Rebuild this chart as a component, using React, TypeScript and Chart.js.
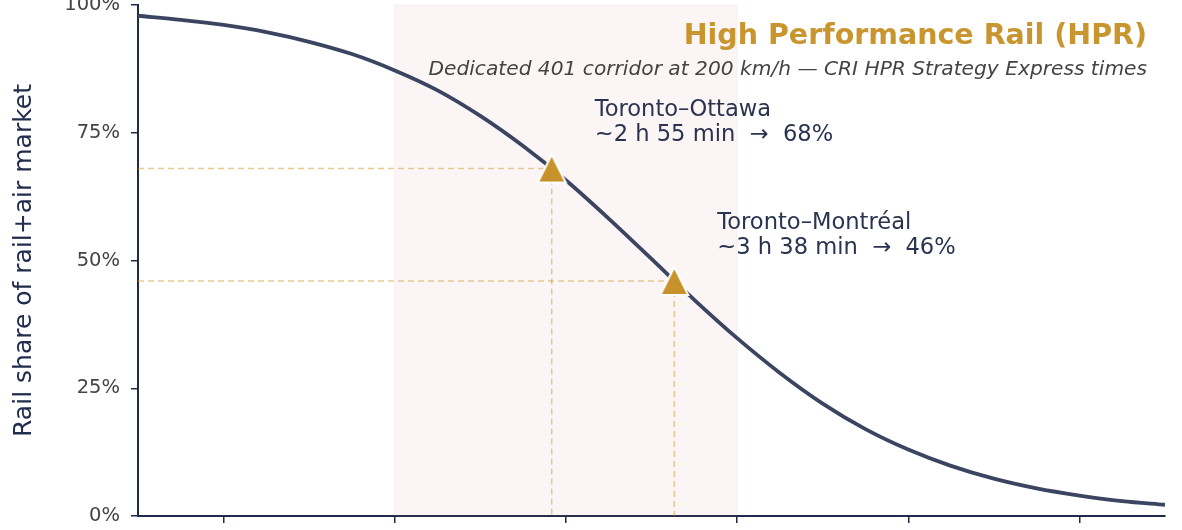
import { useEffect, useRef } from "react";
import { Chart, registerables } from "chart.js";

Chart.register(...registerables);

// travel time (h) vs rail share of the rail+air market (%)
const hours = [
  0.5, 0.75, 1, 1.25, 1.5, 1.75, 2, 2.25, 2.5, 2.75, 3, 3.25, 3.5, 3.75, 4, 4.25, 4.5, 4.75, 5,
  5.25, 5.5, 5.75, 6, 6.25, 6.5,
];
const railShare = [
  97.9, 97.1, 96.1, 94.7, 92.8, 90.4, 87.2, 83.3, 78.3, 72.4, 65.7, 58.2, 50.3, 42.3, 34.8, 28.0,
  22.0, 17.0, 13.0, 9.8, 7.3, 5.4, 4.0, 2.9, 2.2,
];

const routeNames = ["Toronto–Ottawa", "Toronto–Montréal"];
const routeTimes = ["~2 h 55 min", "~3 h 38 min"];
const routeHours = [2.917, 3.633];
const routeShares = [68, 46];

const xTicks = [1, 2, 3, 4, 5, 6];
const yTicks = [0, 25, 50, 75, 100];
const hprBand = [2, 4];

const titleText = "High Performance Rail (HPR)";
const subtitleText = "Dedicated 401 corridor at 200 km/h — CRI HPR Strategy Express times";

const navy = "#3b4562";
const axisColor = "#1f2a4a";
const gold = "#c8922a";
const dashGold = "rgba(214, 160, 60, 0.55)";
const font = "'DejaVu Sans', sans-serif";

function makeTriangle() {
  const c = document.createElement("canvas");
  c.width = 32;
  c.height = 32;
  const ctx = c.getContext("2d")!;
  ctx.beginPath();
  ctx.moveTo(16, 2);
  ctx.lineTo(30, 30);
  ctx.lineTo(2, 30);
  ctx.closePath();
  ctx.fillStyle = gold;
  ctx.fill();
  ctx.lineWidth = 2;
  ctx.strokeStyle = "#ffffff";
  ctx.stroke();
  return c;
}

export default function App() {
  const chartRef = useRef<HTMLCanvasElement>(null);

  useEffect(() => {
    if (!chartRef.current) return;

    const triangle = makeTriangle();

    const dashDatasets = routeHours.flatMap((h, i) => [
      {
        type: "line" as const,
        data: [
          { x: hours[0], y: routeShares[i] },
          { x: h, y: routeShares[i] },
        ],
        borderColor: dashGold,
        borderWidth: 1.5,
        borderDash: [6, 4],
        pointRadius: 0,
        order: 3,
      },
      {
        type: "line" as const,
        data: [
          { x: h, y: routeShares[i] },
          { x: h, y: 0 },
        ],
        borderColor: dashGold,
        borderWidth: 1.5,
        borderDash: [6, 4],
        pointRadius: 0,
        order: 3,
      },
    ]);

    const bandPlugin = {
      id: "hprBand",
      beforeDatasetsDraw(chart: any) {
        const { ctx, chartArea, scales } = chart;
        const x0 = scales.x.getPixelForValue(hprBand[0]);
        const x1 = scales.x.getPixelForValue(hprBand[1]);
        ctx.save();
        ctx.fillStyle = "rgba(190, 110, 90, 0.06)";
        ctx.fillRect(x0, chartArea.top, x1 - x0, chartArea.bottom - chartArea.top);
        ctx.strokeStyle = "rgba(190, 110, 90, 0.08)";
        ctx.lineWidth = 1;
        ctx.strokeRect(x0, chartArea.top, x1 - x0, chartArea.bottom - chartArea.top);
        ctx.restore();
      },
    };

    const textPlugin = {
      id: "hprText",
      afterDraw(chart: any) {
        const { ctx, scales } = chart;
        ctx.save();
        ctx.textBaseline = "middle";

        ctx.textAlign = "left";
        ctx.fillStyle = "#2a3350";
        ctx.font = `22.6px ${font}`;
        routeNames.forEach((name, i) => {
          const px = scales.x.getPixelForValue(routeHours[i]);
          const py = scales.y.getPixelForValue(routeShares[i]);
          ctx.fillText(name, px + 43, py - 58);
          ctx.fillText(`${routeTimes[i]}  →  ${routeShares[i]}%`, px + 43, py - 33);
        });

        ctx.textAlign = "right";
        ctx.fillStyle = "#c9952e";
        ctx.font = `bold 28.5px ${font}`;
        ctx.fillText(titleText, 1147, 37);
        ctx.fillStyle = "#444444";
        ctx.font = `italic 20.2px ${font}`;
        ctx.fillText(subtitleText, 1147, 70);
        ctx.restore();
      },
    };

    const chart = new Chart(chartRef.current, {
      type: "line",
      data: {
        datasets: [
          {
            type: "scatter" as const,
            data: routeHours.map((h, i) => ({ x: h, y: routeShares[i] })),
            pointStyle: triangle,
            pointRadius: 15,
            order: 0,
          },
          {
            type: "line" as const,
            data: hours.map((h, i) => ({ x: h, y: railShare[i] })),
            borderColor: navy,
            borderWidth: 3.8,
            pointRadius: 0,
            cubicInterpolationMode: "monotone" as const,
            order: 1,
          },
          ...dashDatasets,
        ],
      } as any,
      options: {
        animation: false,
        responsive: true,
        maintainAspectRatio: false,
        layout: { autoPadding: false, padding: { top: 5, right: 17, left: 0, bottom: 0 } },
        plugins: { legend: { display: false }, tooltip: { enabled: false } },
        scales: {
          x: {
            type: "linear",
            min: hours[0],
            max: hours[hours.length - 1],
            afterBuildTicks: (scale: any) => {
              scale.ticks = xTicks.map((v) => ({ value: v }));
            },
            afterFit: (scale: any) => {
              scale.height = 14;
              scale.paddingLeft = 0;
              scale.paddingRight = 0;
            },
            ticks: { display: false },
            grid: {
              display: true,
              drawOnChartArea: false,
              drawTicks: true,
              tickLength: 7,
              color: axisColor,
              lineWidth: 1.5,
            },
            border: { display: true, color: axisColor, width: 2 },
          },
          y: {
            type: "linear",
            min: 0,
            max: 100,
            afterBuildTicks: (scale: any) => {
              scale.ticks = yTicks.map((v) => ({ value: v }));
            },
            afterFit: (scale: any) => {
              scale.width = 138;
              scale.paddingTop = 0;
              scale.paddingBottom = 0;
            },
            ticks: {
              color: "#444444",
              font: { size: 19.5, family: font },
              padding: 11,
              callback: (v: any) => `${v}%`,
            },
            grid: {
              display: true,
              drawOnChartArea: false,
              drawTicks: true,
              tickLength: 7,
              color: axisColor,
              lineWidth: 1.5,
            },
            border: { display: true, color: axisColor, width: 2 },
            title: {
              display: true,
              text: "Rail share of rail+air market",
              color: "#222c4d",
              font: { size: 25, family: font },
              padding: { top: 9.5, bottom: 0 },
            },
          },
        },
      },
      plugins: [bandPlugin, textPlugin],
    });

    return () => {
      chart.destroy();
    };
  }, []);

  return (
    <div style={{ position: "absolute", left: 0, top: 0, width: 1182, height: 530 }}>
      <canvas ref={chartRef} />
    </div>
  );
}
